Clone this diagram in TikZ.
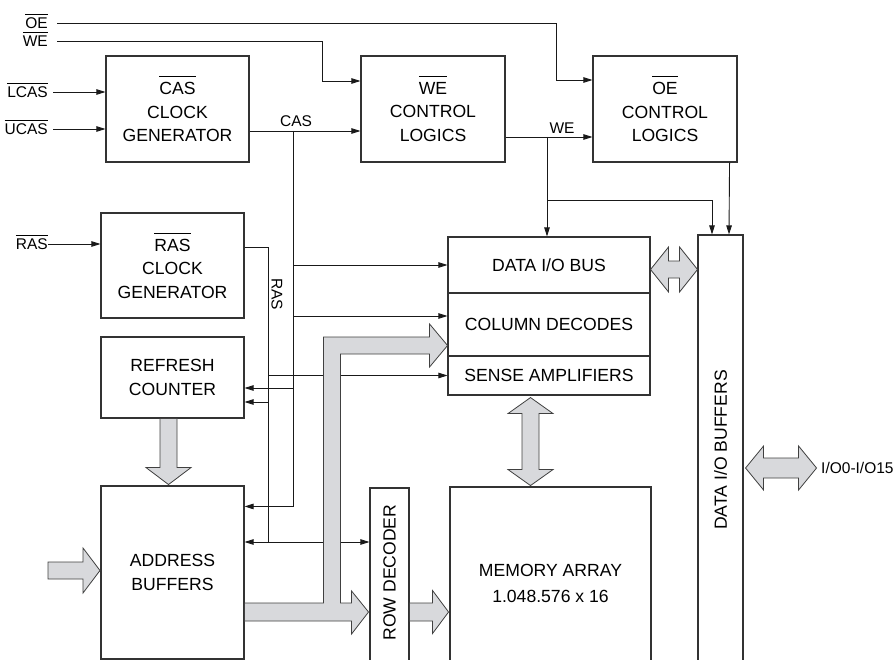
\documentclass[tikz,border=0pt]{standalone}
\usepackage{fontspec}
\setmainfont{Liberation Sans}
\usetikzlibrary{arrows.meta,calc}
\definecolor{busgray}{RGB}{216,217,220}
\newcommand\ovl[2][3pt]{\leavevmode\setbox0\hbox{#2}\rlap{\rule[\dimexpr\ht0+#1\relax]{\wd0}{0.9pt}}\box0}
\tikzset{
  blk/.style={draw=black!80, line width=1.1pt, inner sep=0pt, align=center,
    font=\fontsize{17.6}{23.5}\selectfont},
  txt/.style={inner sep=0pt, align=center, font=\fontsize{17.6}{23.5}\selectfont},
  lbl/.style={inner sep=0pt, text height=11pt, text depth=0pt,
    font=\fontsize{15.5}{18}\selectfont},
  sig/.style={draw=black!90, line width=0.9pt},
  bus/.style={fill=busgray, draw=black!75, line width=0.8pt, line join=miter}
}
\begin{document}
\begin{tikzpicture}[x=1pt,y=-1pt,>={Triangle[length=9pt,width=5.5pt]}]
\useasboundingbox (0,0) rectangle (896,660);
\clip (0,0) rectangle (896,660);
\node[blk, minimum width=143, minimum height=106] (casgen) at (177.5,109) {\ovl[5pt]{CAS}\\CLOCK\\GENERATOR};
\node[blk, minimum width=144, minimum height=106] (webox) at (433,109) {\ovl[5pt]{WE}\\CONTROL\\LOGICS};
\node[blk, minimum width=144, minimum height=106] (oebox) at (665,109) {\ovl[5pt]{OE}\\CONTROL\\LOGICS};
\node[blk, minimum width=143, minimum height=105] (rasgen) at (172.5,265.5) {\ovl[5pt]{RAS}\\CLOCK\\GENERATOR};
\node[blk, minimum width=143, minimum height=81] (refresh) at (172.5,377.5) {REFRESH\\COUNTER};
\node[blk, minimum width=143, minimum height=173] (addrbuf) at (172.5,572.5) {ADDRESS\\BUFFERS};
\node[blk, minimum width=202, minimum height=56] (iobus) at (549,265) {DATA I/O BUS};
\node[blk, minimum width=202, minimum height=63] (coldec) at (549,324.5) {COLUMN DECODES};
\node[blk, minimum width=202, minimum height=39] (senseamp) at (549,375.5) {SENSE AMPLIFIERS};
\node[blk, minimum width=39, minimum height=184] (rowdec) at (389.5,580) {};
\node[blk, minimum width=201, minimum height=186] (memory) at (550.5,580) {};
\node[blk, minimum width=45, minimum height=440] (iobuf) at (720.5,455) {};
\node[txt, rotate=90] (rowdectxt) at (389.5,572.5) {ROW DECODER};
\node[txt, font=\fontsize{17.6}{26}\selectfont] (memtxt) at (550.5,583.5) {MEMORY ARRAY\\1.048.576 x 16};
\node[txt, rotate=90] (iobuftxt) at (720.5,450) {DATA I/O BUFFERS};
\node[lbl, anchor=east] (oel) at (48,23) {\ovl{OE}};
\node[lbl, anchor=east] (wel) at (48,41) {\ovl{WE}};
\node[lbl, anchor=east] (lcasl) at (48,92) {\ovl{LCAS}};
\node[lbl, anchor=east] (ucasl) at (48,129) {\ovl{UCAS}};
\node[lbl, anchor=east] (rasl) at (48,244) {\ovl{RAS}};
\node[lbl, anchor=south] (caslbl) at (296,127) {CAS};
\node[lbl, anchor=south] (welbl) at (562,134) {WE};
\node[lbl, rotate=-90] (raslbl) at (277,294) {RAS};
\node[lbl, anchor=west] (iolbl) at (821,468) {I/O0-I/O15};
\coordinate (oej) at (556,80);
\coordinate (wej0) at (322,81);
\coordinate (casj) at (293,131);
\coordinate (wej) at (547,137);
\coordinate (wej2) at (547,200);
\coordinate (rasj) at (268,247);
\coordinate (rasb) at (268,542);
\coordinate (abin) at (48,570.5);
\draw[sig,->] ($(oel.east)+(9,0)$) -| (oej) -- (oebox.west |- oej);
\draw[sig,->] ($(wel.east)+(9,0)$) -| (wej0) -- (webox.west |- wej0);
\draw[sig,->] ($(lcasl.east)+(5,0)$) -- (casgen.west |- lcasl.east);
\draw[sig,->] ($(ucasl.east)+(5,0)$) -- (casgen.west |- ucasl.east);
\draw[sig,->] (rasl.east) -- (rasgen.west |- rasl.east);
\draw[sig,->] (casgen.east |- casj) -- (webox.west |- casj);
\draw[sig,->] (casj) |- ($(addrbuf.north east)+(0,21)$);
\draw[sig,->] (casj |- iobus.west) -- (iobus.west);
\draw[sig,->] ($(casj |- coldec.west)+(0,-8.5)$) -- ($(coldec.west)+(0,-8.5)$);
\draw[sig,->] ($(casj |- refresh.east)+(0,10.5)$) -- ($(refresh.east)+(0,10.5)$);
\draw[sig] (rasgen.east |- rasj) -- (rasj) -- (rasb);
\draw[sig,->] (rasb) -- (addrbuf.east |- rasb);
\draw[sig,->] (rasb) -- (rowdec.west |- rasb);
\draw[sig,->] (rasj |- senseamp.west) -- (senseamp.west);
\draw[sig,->] ($(rasj |- refresh.east)+(0,24.5)$) -- ($(refresh.east)+(0,24.5)$);
\draw[sig,->] (webox.east |- wej) -- (oebox.west |- wej);
\draw[sig,->] (wej) -- (wej |- iobus.north);
\draw[sig,->] (wej2) -| ($(iobuf.north)+(-8.5,0)$);
\draw[sig,->] ($(oebox.south east)+(-8,0)$) -- ($(iobuf.north)+(8.5,0)$);
\draw[bus] ($(refresh.south)+(-12.5,0)$) -- ++(0,49) -- ++(-14,0) -- ++(22.5,17) -- ++(22.5,-17) -- ++(-14,0) -- ++(0,-49) -- cycle;
\draw[bus] ($(abin)+(0,-8.5)$) -- ++(35,0) -- ++(0,-14) -- ++(17,22.5) -- ++(-17,22.5) -- ++(0,-14) -- ++(-35,0) -- cycle;
\draw[bus] ($(addrbuf.east)+(0,30.5)$) -- ++(79,0) -- ++(0,-266) -- ++(106,0) -- ++(0,-13) -- ++(18,21.5) -- ++(-18,21.5) -- ++(0,-13) -- ++(-89,0) -- ++(0,249) -- ++(11,0) -- ++(0,-12) -- ++(17,21) -- ++(-17,22) -- ++(0,-13) -- ++(-107,0) -- cycle;
\draw[bus] ($(rowdec.east)+(0,23)$) -- ++(23,0) -- ++(0,-12.5) -- ++(16,21.5) -- ++(-16,21.5) -- ++(0,-12.5) -- ++(-23,0) -- cycle;
\draw[bus] ($(senseamp.south)+(-18.5,2)$) -- ++(22.5,16) -- ++(-14,0) -- ++(0,56) -- ++(14,0) -- ++(-22.5,16) -- ++(-22.5,-16) -- ++(14,0) -- ++(0,-56) -- ++(-14,0) -- cycle;
\draw[bus] ($(iobus.east)+(0,4.5)$) -- ++(18,-22.5) -- ++(0,14) -- ++(11,0) -- ++(0,-14) -- ++(18,22.5) -- ++(-18,22.5) -- ++(0,-14) -- ++(-11,0) -- ++(0,14) -- cycle;
\draw[bus] ($(iobuf.east)+(2,13)$) -- ++(18,-22) -- ++(0,12) -- ++(35,0) -- ++(0,-12) -- ++(18,22) -- ++(-18,22) -- ++(0,-12) -- ++(-35,0) -- ++(0,12) -- cycle;
\end{tikzpicture}
\end{document}
